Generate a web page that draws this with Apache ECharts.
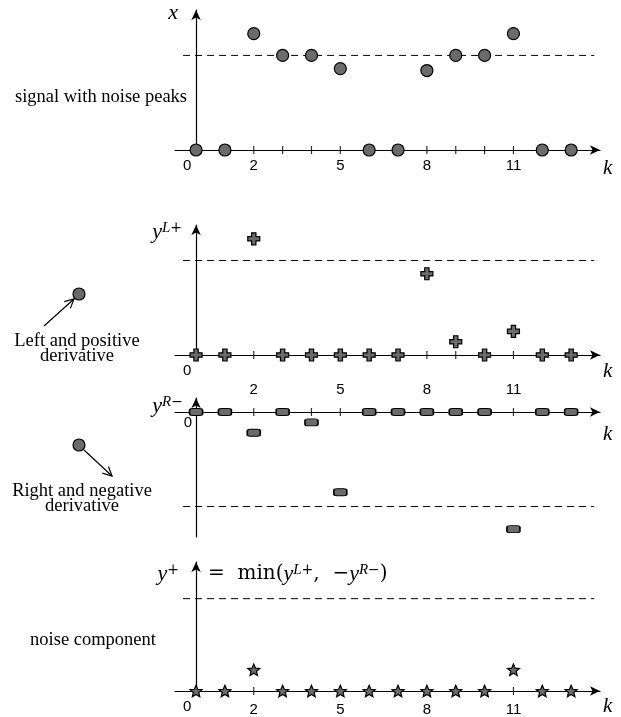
<!DOCTYPE html>
<html>
<head>
<meta charset="utf-8">
<script src="https://cdn.jsdelivr.net/npm/echarts@6/dist/echarts.min.js"></script>
<style>
  html, body { margin: 0; padding: 0; background: #fff; }
  #chart { width: 621px; height: 717px; }
</style>
</head>
<body>
<div id="chart"></div>
<script>
// sample index k
const ks = [0, 1, 2, 3, 4, 5, 6, 7, 8, 9, 10, 11, 12, 13];
// x: signal with noise peaks
const signalX = [0, 0, 1.23, 1, 1, 0.86, 0, 0, 0.84, 1, 1, 1.23, 0, 0];
// y^{L+}: left and positive derivative
const leftPos = [0, 0, 1.23, 0, 0, 0, 0, 0, 0.86, 0.14, 0, 0.25, 0, 0];
// y^{R-}: right and negative derivative
const rightNeg = [0, 0, -0.22, 0, -0.11, -0.85, 0, 0, 0, 0, 0, -1.24, 0, 0];
// y^+: noise component
const noise = [0, 0, 0.23, 0, 0, 0, 0, 0, 0, 0, 0, 0.23, 0, 0];
// dashed threshold per panel
const thresholds = [1, 1, -1, 1];
// labelled k ticks
const tickLabels = [0, 2, 5, 8, 11];

const serif = '"Liberation Serif", "Times New Roman", serif';
const mathFont = '"DejaVu Serif", serif';
const sans = '"Liberation Sans", Arial, sans-serif';
const grey = '#6b6b6b';

const plusPath = 'path://M3.2,0 L6.8,0 L6.8,3.2 L10,3.2 L10,6.8 L6.8,6.8 L6.8,10 L3.2,10 L3.2,6.8 L0,6.8 L0,3.2 L3.2,3.2 Z';
const starPath = 'path://M50,0 L63.2,31.8 L97.6,34.5 L71.4,57 L79.4,90.5 L50,72.5 L20.6,90.5 L28.6,57 L2.4,34.5 L36.8,31.8 Z';

const panels = [
  { top: 10, height: 140, min: 0, max: 1.48, values: signalX, symbol: 'circle', size: 12, labels: tickLabels, drop: 0, kPad: 8 },
  { top: 225, height: 130, min: 0, max: 1.376, values: leftPos, symbol: plusPath, size: 12, labels: tickLabels, drop: 19, kPad: 6 },
  { top: 398, height: 139, min: -1.323, max: 0.148, values: rightNeg, symbol: 'roundRect', size: [13, 7], labels: [], drop: 0, kPad: 12 },
  { top: 562, height: 132, min: 0, max: 1.397, values: noise, symbol: starPath, size: 12, labels: tickLabels, drop: 3, kPad: 5 }
];

const grid = [], xAxis = [], yAxis = [], series = [];
panels.forEach((p, i) => {
  grid.push({ left: 175, right: 21, top: p.top, height: p.height });
  xAxis.push({
    type: 'value', gridIndex: i, min: -0.73, max: 14.0,
    name: 'k', nameLocation: 'end', nameGap: 3,
    nameTextStyle: { fontFamily: serif, fontStyle: 'italic', fontSize: 21, color: '#000', verticalAlign: 'top', padding: [p.kPad, 0, 0, 0] },
    axisLine: { onZero: true, symbol: ['none', 'arrow'], symbolSize: [7, 10], lineStyle: { color: '#000', width: 1.2 } },
    axisTick: { show: false },
    splitLine: { show: false },
    axisLabel: {
      show: p.labels.length > 0,
      customValues: p.labels, margin: 8, fontFamily: sans, fontSize: 15, color: '#000',
      formatter: v => (v === 0 ? '{z|0}' : '{n|' + v + '}'),
      rich: {
        z: { fontFamily: sans, fontSize: 15, color: '#000', padding: [0, 18, 0, 0] },
        n: { fontFamily: sans, fontSize: 15, color: '#000', padding: [p.drop, 0, 0, 0] }
      }
    }
  });
  yAxis.push({
    type: 'value', gridIndex: i, min: p.min, max: p.max,
    axisLine: { onZero: true, symbol: ['none', 'arrow'], symbolSize: [7, 10], lineStyle: { color: '#000', width: 1.2 } },
    axisTick: { show: false }, splitLine: { show: false },
    // the middle panel carries its origin label on the y axis, below-left of the origin
    axisLabel: p.labels.length > 0 ? { show: false } : {
      customValues: [0], margin: -17, fontFamily: sans, fontSize: 15, color: '#000',
      formatter: () => '{z|0}',
      rich: { z: { fontFamily: sans, fontSize: 15, color: '#000', padding: [22, 0, 0, 0] } }
    }
  });
  // dashed threshold
  series.push({
    type: 'line', xAxisIndex: i, yAxisIndex: i, silent: true, showSymbol: false, z: 1,
    data: [[-0.45, thresholds[i]], [13.8, thresholds[i]]],
    lineStyle: { color: '#000', width: 1, type: [7, 5] }
  });
  // tick marks crossing the k axis
  series.push({
    type: 'scatter', xAxisIndex: i, yAxisIndex: i, silent: true, z: 2,
    data: ks.map(k => [k, 0]), symbol: 'rect', symbolSize: [1.2, 8],
    itemStyle: { color: '#000' }
  });
  series.push({
    type: 'scatter', xAxisIndex: i, yAxisIndex: i, z: 5,
    data: ks.map((k, j) => [k, p.values[j]]),
    symbol: p.symbol, symbolSize: p.size, symbolKeepAspect: true,
    itemStyle: { color: grey, borderColor: '#000', borderWidth: 1.2, opacity: 1 }
  });
});

const mathRich = {
  i: { fontFamily: serif, fontStyle: 'italic', fontSize: 22, color: '#000' },
  r: { fontFamily: mathFont, fontSize: 20, color: '#000' },
  si: { fontFamily: serif, fontStyle: 'italic', fontSize: 15, color: '#000', verticalAlign: 'top' },
  sp: { fontFamily: mathFont, fontSize: 14, color: '#000', verticalAlign: 'top' }
};

function mathText(x, y, text, align) {
  return { type: 'text', x: x, y: y, style: { text: text, rich: mathRich, align: align || 'right', verticalAlign: 'middle' } };
}
function plainText(x, y, text) {
  return { type: 'text', x: x, y: y, style: { text: text, fontFamily: serif, fontSize: 18.5, fill: '#000', align: 'center', verticalAlign: 'middle', lineHeight: 15 } };
}
function arrow(x1, y1, x2, y2) {
  const dx = x2 - x1, dy = y2 - y1, len = Math.hypot(dx, dy);
  const ux = dx / len, uy = dy / len, h = 9, w = 4.5;
  return [
    { type: 'line', shape: { x1: x1, y1: y1, x2: x2, y2: y2 }, style: { stroke: '#000', lineWidth: 1.2 } },
    { type: 'polyline', shape: { points: [
      [x2 - ux * h - uy * w, y2 - uy * h + ux * w], [x2, y2], [x2 - ux * h + uy * w, y2 - uy * h - ux * w]
    ] }, style: { stroke: '#000', fill: null, lineWidth: 1.2 } }
  ];
}
function dot(x, y) {
  return { type: 'circle', shape: { cx: x, cy: y, r: 6 }, style: { fill: grey, stroke: '#000', lineWidth: 1.2 } };
}

const graphic = [
  mathText(178, 13, '{i|x}'),
  mathText(182, 232, '{i|y}{si|L}{sp|+}'),
  mathText(183, 406, '{i|y}{si|R}{sp|−}'),
  mathText(179, 574, '{i|y}{sp|+}'),
  mathText(208, 574, '{r|=  min(}{i|y}{si|L}{sp|+}{r|,  −}{i|y}{si|R}{sp|−}{r|)}', 'left'),
  plainText(101, 97, 'signal with noise peaks'),
  plainText(77, 349, 'Left and positive\nderivative'),
  plainText(82, 499, 'Right and negative\nderivative'),
  plainText(93, 640, 'noise component'),
  dot(79, 294),
  dot(79, 445)
].concat(arrow(44, 326, 74, 299), arrow(84, 450, 112, 476));

const chart = echarts.init(document.getElementById('chart'));
chart.setOption({
  animation: false,
  grid: grid,
  xAxis: xAxis,
  yAxis: yAxis,
  series: series,
  graphic: graphic
});
</script>
</body>
</html>
